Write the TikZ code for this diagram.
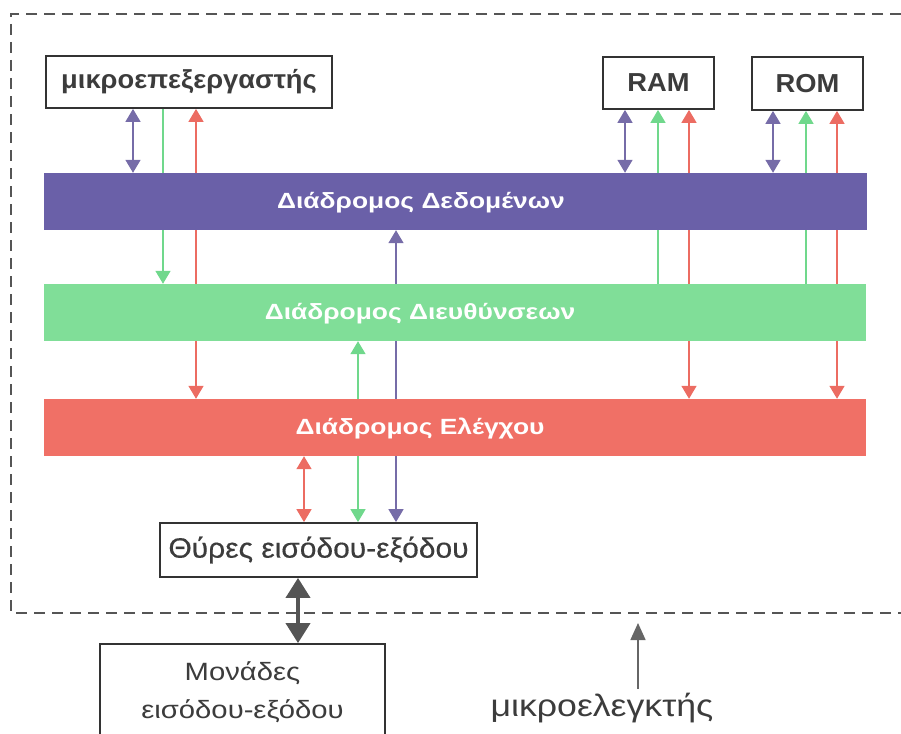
\documentclass[tikz,border=0pt]{standalone}
\usepackage{fontspec}
\setmainfont{Liberation Sans}
\newfontfamily\boxfont[FakeStretch=1.05]{Liberation Sans}
\newfontfamily\barfont[FakeStretch=1.2]{Liberation Sans}
\newfontfamily\portfont[FakeStretch=1.07,FakeBold=0.4]{Liberation Sans}
\newfontfamily\iofont[FakeStretch=1.17]{Liberation Sans}
\newfontfamily\mcfont[FakeStretch=1.15]{Liberation Sans}
\usetikzlibrary{arrows.meta,backgrounds}
\definecolor{busP}{RGB}{106,96,168}
\definecolor{busG}{RGB}{128,222,152}
\definecolor{busR}{RGB}{240,112,102}
\definecolor{arrP}{RGB}{118,108,168}
\definecolor{arrG}{RGB}{112,216,140}
\definecolor{arrR}{RGB}{236,108,98}
\definecolor{ink}{RGB}{51,51,51}
\definecolor{txt}{RGB}{60,60,60}
\definecolor{dashc}{RGB}{85,85,85}
\tikzset{
  unitbox/.style={draw=ink, line width=1.8pt, fill=white, inner sep=0pt, text=txt},
  busbar/.style={fill=#1, draw=none, inner sep=0pt, minimum height=57pt},
  bustext/.style={text=white, anchor=base, font=\barfont\bfseries\fontsize{22}{26}\selectfont},
  tip/.style={-{Triangle[width=15pt,length=13pt]}},
  both/.style={{Triangle[width=15pt,length=13pt]}-{Triangle[width=15pt,length=13pt]}},
  pa/.style={draw=arrP, fill=arrP, line width=1.6pt},
  ga/.style={draw=arrG, fill=arrG, line width=1.6pt},
  ra/.style={draw=arrR, fill=arrR, line width=1.6pt},
}
\begin{document}
\begin{tikzpicture}[x=1pt, y=-1pt]
\useasboundingbox (0,0) rectangle (901,733);
% dashed microcontroller frame
\draw[dashc, line width=1.8pt, dash pattern=on 11pt off 7pt] (901,14) -- (11,14) -- (11,613) -- (901,613);
% units
\node[unitbox, minimum width=286pt, minimum height=52pt, font=\boxfont\bfseries\fontsize{26}{30}\selectfont] (mp) at (189,82) {μικροεπεξεργαστής};
\node[unitbox, minimum width=111pt, minimum height=52pt, font=\boxfont\bfseries\fontsize{26}{30}\selectfont] (ram) at (658.5,83) {RAM};
\node[unitbox, minimum width=111pt, minimum height=53pt, font=\boxfont\bfseries\fontsize{26}{30}\selectfont] (rom) at (807.5,83.5) {ROM};
% buses
\node[busbar=busP, minimum width=823pt] (db) at (455.5,201.5) {};
\node[busbar=busG, minimum width=822pt] (ab) at (455,312.5) {};
\node[busbar=busR, minimum width=822pt] (cb) at (455,427.5) {};
\node[bustext] (dbt) at (421,208) {Διάδρομος Δεδομένων};
\node[bustext] (abt) at (420,319) {Διάδρομος Διευθύνσεων};
\node[bustext] (cbt) at (420,434) {Διάδρομος Ελέγχου};
% ports and I/O units
\node[unitbox, minimum width=317pt, minimum height=54pt, font=\portfont\fontsize{28}{32}\selectfont] (ports) at (318.5,550) {Θύρες εισόδου-εξόδου};
\node[unitbox, minimum width=285pt, minimum height=96pt, align=center, font=\iofont\fontsize{25}{38}\selectfont] (io) at (242.5,692) {Μονάδες\\εισόδου-εξόδου};
\node[text=txt, anchor=base, font=\mcfont\fontsize{31}{36}\selectfont] (mc) at (602,716) {μικροελεγκτής};
% connectors (behind the bus bars)
\begin{scope}[on background layer]
\draw[pa, both] (mp.south -| 133,0) -- (db.north -| 133,0);
\draw[ga, tip] (mp.south -| 163,0) -- (ab.north -| 163,0);
\draw[ra, both] (mp.south -| 196,0) -- (cb.north -| 196,0);
\draw[pa, both] (ram.south -| 625,0) -- (db.north -| 625,0);
\draw[ga, tip] (ab.north -| 658,0) -- (ram.south -| 658,0);
\draw[ra, both] (ram.south -| 689,0) -- (cb.north -| 689,0);
\draw[pa, both] (rom.south -| 773,0) -- (db.north -| 773,0);
\draw[ga, tip] (ab.north -| 806,0) -- (rom.south -| 806,0);
\draw[ra, both] (rom.south -| 837,0) -- (cb.north -| 837,0);
\draw[ra, both] (cb.south -| 304,0) -- (ports.north -| 304,0);
\draw[ga, both] (ab.south -| 358,0) -- (ports.north -| 358,0);
\draw[pa, both] (db.south -| 396,0) -- (ports.north -| 396,0);
\end{scope}
\draw[draw=dashc, fill=dashc, line width=4pt, {Triangle[width=24pt,length=20pt]}-{Triangle[width=24pt,length=20pt]}] (ports.south -| 298,0) -- (io.north -| 298,0);
\draw[draw=dashc!90, fill=dashc!90, line width=1.6pt, -{Triangle[width=15pt,length=17pt]}] (mc.north -| 638,0) -- (638,623);
\end{tikzpicture}
\end{document}
